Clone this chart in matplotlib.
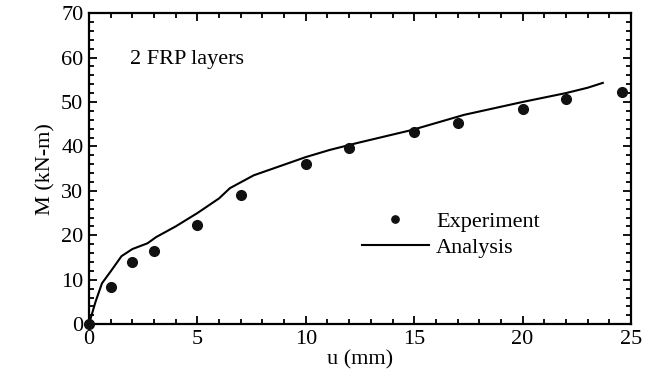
import matplotlib
matplotlib.use("Agg")
import matplotlib.pyplot as plt
from matplotlib.ticker import MultipleLocator

exp_u = [0, 1, 2, 3, 5, 7, 10, 12, 15, 17, 20, 22, 24.6]
exp_m = [0, 8.3, 14.0, 16.5, 22.3, 29.0, 36.0, 39.6, 43.2, 45.3, 48.4, 50.7, 52.3]

ana_u = [0, 0.3, 0.6, 1.05, 1.5, 2.0, 2.7, 3.1, 4.0, 5.0, 6.0, 6.5, 7.6, 8.95,
         10.0, 11.1, 12.4, 14.9, 17.3, 20.0, 22.0, 23.0, 23.7]
ana_m = [0, 5.0, 9.2, 12.2, 15.3, 16.9, 18.2, 19.6, 22.0, 25.0, 28.3, 30.6, 33.5, 35.8,
         37.6, 39.2, 40.8, 43.7, 47.1, 50.0, 52.0, 53.2, 54.3]

plt.rcParams['font.family'] = ['Liberation Serif', 'DejaVu Serif']

fig = plt.figure(figsize=(6.59, 3.85), dpi=100)
ax = fig.add_axes([0.135, 0.158, 0.8225, 0.808])

ax.plot(exp_u, exp_m, 'o', color='#111111', markersize=7, label='Experiment', clip_on=False, zorder=3)
ax.plot(ana_u, ana_m, '-', color='black', linewidth=1.5, label='Analysis')

ax.set_xlim(0, 25)
ax.set_ylim(0, 70)
ax.xaxis.set_major_locator(MultipleLocator(5))
ax.xaxis.set_minor_locator(MultipleLocator(1))
ax.yaxis.set_major_locator(MultipleLocator(10))
ax.yaxis.set_minor_locator(MultipleLocator(2))
ax.tick_params(which='both', direction='in', top=True, right=True, width=1.3, labelsize=16)
ax.tick_params(which='major', length=6, pad=4)
ax.tick_params(which='minor', length=3.5)
for s in ax.spines.values():
    s.set_linewidth(1.6)

ax.set_xlabel('u (mm)', fontsize=16, labelpad=1)
ax.set_ylabel('M (kN-m)', fontsize=16, labelpad=4)

ax.text(1.9, 59.5, '2 FRP layers', fontsize=16, va='center', ha='left')

ax.legend(loc='upper left', bbox_to_anchor=(0.504, 0.362), frameon=False, fontsize=16,
          handlelength=3.0, handletextpad=0.32, labelspacing=0.25, borderpad=0,
          borderaxespad=0, markerscale=0.75)

fig.savefig('out.png', dpi=100)
